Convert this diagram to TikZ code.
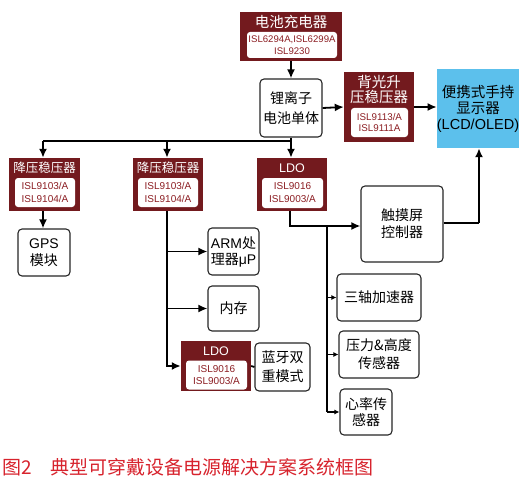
\documentclass[tikz,border=0pt]{standalone}
\usepackage{fontspec}
\setmainfont{Noto Sans CJK SC}
\newfontfamily\lat{Liberation Sans}
\usetikzlibrary{arrows.meta}
\definecolor{dred}{RGB}{115,26,30}
\definecolor{ired}{RGB}{140,30,35}
\definecolor{dblue}{RGB}{92,192,236}
\definecolor{cred}{RGB}{215,35,45}
\begin{document}
\begin{tikzpicture}[x=1pt,y=-1pt,
  redbox/.style={fill=dred, draw=none, inner sep=0},
  ttl/.style={text=white, inner sep=0, align=center, font=\fontsize{13.5}{15}\selectfont},
  inbox/.style={fill=white, rounded corners=3pt, draw=none, text=ired, align=center, inner sep=0, font=\lat\fontsize{10}{12}\selectfont},
  wbox/.style={fill=white, draw=black!85, line width=1.1pt, rounded corners=4pt, align=center, inner sep=0, font=\fontsize{14}{19}\selectfont},
  conn/.style={line width=1.8pt, -{Latex[length=9pt,width=8pt]}},
  plain/.style={line width=1.8pt},
  sconn/.style={line width=1.4pt, -{Latex[length=5pt,width=5pt]}},
  splain/.style={line width=1.4pt}]
\useasboundingbox (0,0) rectangle (528,487);

% charger
\node[redbox, minimum width=102, minimum height=49] (chg) at (291,36.5) {};
\node[ttl, font=\fontsize{14.5}{15}\selectfont] (chgt) at (291,22) {电池充电器};
\node[inbox, minimum width=90, minimum height=26, font=\lat\fontsize{9.6}{12}\selectfont] (chgi) at (292,45) {ISL6294A,ISL6299A\\ISL9230};

% battery
\node[wbox, minimum width=62, minimum height=58, font=\fontsize{14}{20}\selectfont] (bat) at (291,108) {锂离子\\电池单体};

% backlight
\node[redbox, minimum width=70, minimum height=70] (bl) at (379,107) {};
\node[ttl, font=\fontsize{14.5}{15}\selectfont] (blt) at (379,89.5) {背光升\\压稳压器};
\node[inbox, minimum width=57, minimum height=29, font=\lat\fontsize{9.8}{10.8}\selectfont] (bli) at (379.5,122.5) {ISL9113/A\\ISL9111A};

% display
\node[fill=dblue, inner sep=0, minimum width=82, minimum height=79, align=center, font=\fontsize{14.5}{16}\selectfont] (disp) at (478,108.5) {便携式手持\\显示器\\{\lat (LCD/OLED)}};

% regulators
\node[redbox, minimum width=71, minimum height=53] (r1) at (44.5,184.5) {};
\node[ttl, font=\fontsize{12.5}{15}\selectfont] (r1t) at (44.5,168) {降压稳压器};
\node[inbox, minimum width=60, minimum height=29, font=\lat\fontsize{10}{13}\selectfont] (r1i) at (45,192.5) {ISL9103/A\\ISL9104/A};

\node[redbox, minimum width=70, minimum height=53] (r2) at (168,184.5) {};
\node[ttl, font=\fontsize{12.5}{15}\selectfont] (r2t) at (168,168) {降压稳压器};
\node[inbox, minimum width=60, minimum height=29, font=\lat\fontsize{10}{13}\selectfont] (r2i) at (168,192.5) {ISL9103/A\\ISL9104/A};

\node[redbox, minimum width=70, minimum height=53] (l1) at (292,184.5) {};
\node[ttl, font=\lat\fontsize{12.5}{15}\selectfont] (l1t) at (292,168) {LDO};
\node[inbox, minimum width=61, minimum height=30, font=\lat\fontsize{10}{13}\selectfont] (l1i) at (292.5,193) {ISL9016\\ISL9003/A};

\node[redbox, minimum width=70, minimum height=50] (l2) at (216,366) {};
\node[ttl, font=\lat\fontsize{12.5}{15}\selectfont] (l2t) at (216,351) {LDO};
\node[inbox, minimum width=61, minimum height=29, font=\lat\fontsize{10}{12}\selectfont] (l2i) at (216.5,375) {ISL9016\\ISL9003/A};

% white boxes
\node[wbox, minimum width=52, minimum height=47, font=\fontsize{14}{17}\selectfont] (gps) at (44,252.5) {{\lat GPS}\\模块};
\node[wbox, minimum width=51, minimum height=47, font=\fontsize{14}{16}\selectfont] (arm) at (233.5,251.5) {{\lat ARM}处\\理器{\lat μP}};
\node[wbox, minimum width=51, minimum height=45] (mem) at (233.5,308.5) {内存};
\node[wbox, minimum width=55, minimum height=48] (bt) at (282.5,367) {蓝牙双\\重模式};
\node[wbox, minimum width=82, minimum height=76, font=\fontsize{14}{17}\selectfont] (tch) at (402,224) {触摸屏\\控制器};
\node[wbox, minimum width=84, minimum height=47] (acc) at (379,297.5) {三轴加速器};
\node[wbox, minimum width=80, minimum height=47, font=\fontsize{14}{18}\selectfont] (prs) at (379,354.5) {压力\&高度\\传感器};
\node[wbox, minimum width=52, minimum height=46, font=\fontsize{14}{16}\selectfont] (hr) at (366,412) {心率传\\感器};

% caption
\node[anchor=west, inner sep=0, text=cred, font=\fontsize{19}{19}\selectfont] (cap) at (2,467) {图2　典型可穿戴设备电源解决方案系统框图};

% junction coordinates
\coordinate (jb) at (291,141);
\coordinate (j1) at (43,141);
\coordinate (j2) at (167,141);
\coordinate (jl) at (290,226);
\coordinate (js) at (327,226);
\coordinate (jt) at (479,223);

% connectors
\draw[conn] (chg.south) -- (bat.north);
\draw[conn] (bat.east) -- (bl.west);
\draw[conn] (bl.east) -- (bl.east -| disp.west);
\draw[plain] (bat.south) -- (jb);
\draw[plain] (j1) -- (jb);
\draw[conn] (j1) -- (j1 |- r1.north);
\draw[conn] (j2) -- (j2 |- r2.north);
\draw[conn] (jb) -- (jb |- l1.north);
\draw[conn] (r1.south -| j1) -- (gps.north -| j1);
\draw[conn] (r2.south -| j2) |- (l2.west);
\draw[conn] (j2 |- arm.west) -- (arm.west);
\draw[conn] (j2 |- mem.west) -- (mem.west);
\draw[plain] (l2.east) -- (bt.west);
\draw[conn] (l1.south -| jl) |- (tch.west |- jl);
\draw[splain] (js) -- (js |- hr.west);
\draw[sconn] (js |- acc.west) -- (acc.west);
\draw[sconn] (js |- prs.west) -- (prs.west);
\draw[sconn] (js |- hr.west) -- (hr.west);
\draw[plain] (tch.east |- jt) -- (jt);
\draw[conn] (jt) -- (jt |- disp.south);
\end{tikzpicture}
\end{document}
